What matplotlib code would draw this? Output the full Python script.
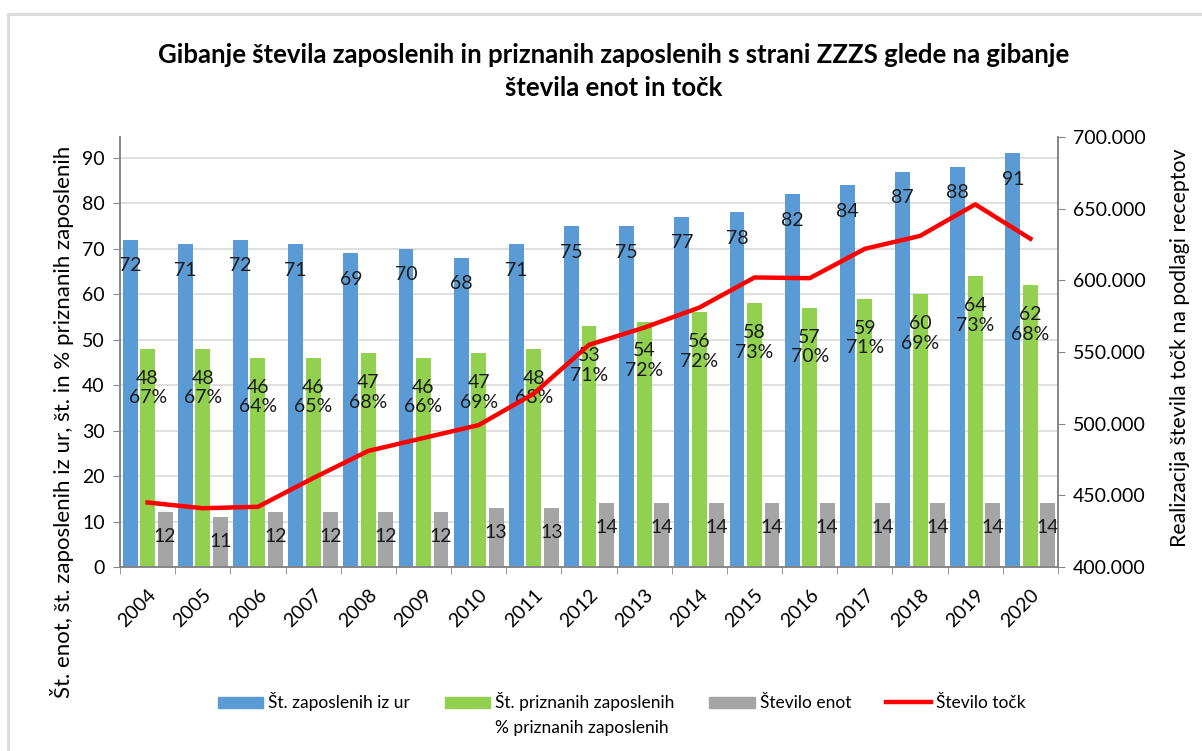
import numpy as np
import matplotlib
matplotlib.use("Agg")
import matplotlib.pyplot as plt
from matplotlib.patches import Patch, Rectangle
from matplotlib.lines import Line2D
from matplotlib.ticker import FuncFormatter, FixedLocator

plt.rcParams['font.family'] = ['Lato', 'DejaVu Sans']

# === Data ===
years = [str(y) for y in range(2004, 2021)]
zaposleni_ur = [72, 71, 72, 71, 69, 70, 68, 71, 75, 75, 77, 78, 82, 84, 87, 88, 91]
priznani = [48, 48, 46, 46, 47, 46, 47, 48, 53, 54, 56, 58, 57, 59, 60, 64, 62]
priznani_pct = [67, 67, 64, 65, 68, 66, 69, 68, 71, 72, 72, 73, 70, 71, 69, 73, 68]
enote = [12, 11, 12, 12, 12, 12, 13, 13, 14, 14, 14, 14, 14, 14, 14, 14, 14]
tocke = [445000, 441000, 442000, 462000, 481000, 490000, 499000, 521000, 555000,
         567000, 581000, 602000, 601500, 622000, 631000, 653000, 629000]

# === Styling ===
c_blue = '#5B9BD5'
c_green = '#92D050'
c_gray = '#A5A5A5'
c_red = '#FF0000'
axis_col = '#868686'
grid_col = '#D9D9D9'

W, H = 1202, 751
fig = plt.figure(figsize=(W / 100, H / 100), dpi=100)

# outer chart frame
fig.patches.append(Rectangle((8 / W, -0.05), 1.2, 1 - 14 / H + 0.05, transform=fig.transFigure,
                             fill=False, edgecolor='#D9D9D9', linewidth=2))

ax = fig.add_axes([120 / W, 1 - 567 / H, 938 / W, 430 / H])
ax2 = ax.twinx()

x = np.arange(len(years))
bw = 0.27
off = 0.317

ax.bar(x - off, zaposleni_ur, bw, color=c_blue, zorder=2)
ax.bar(x, priznani, bw, color=c_green, zorder=2)
ax.bar(x + off, enote, bw, color=c_gray, zorder=2)

lbl_fs = 14
for i in range(len(years)):
    ax.text(x[i] - off, zaposleni_ur[i] - 5.7, str(zaposleni_ur[i]), ha='center', va='center',
            fontsize=lbl_fs, color='#1a1a1a', zorder=5)
    ax.text(x[i], priznani[i] - 8.6, f"{priznani[i]}\n{priznani_pct[i]}%", ha='center', va='center',
            fontsize=lbl_fs, color='#1a1a1a', linespacing=1.2, zorder=5)
    ax.text(x[i] + off, enote[i] - 5.3, str(enote[i]), ha='center', va='center',
            fontsize=lbl_fs, color='#1a1a1a', zorder=5)

ax2.plot(x, tocke, color=c_red, linewidth=3.2, solid_joinstyle='round', zorder=4)

# --- axes ---
ax.set_xlim(-0.5, len(years) - 0.5)
ax.set_ylim(0, 94.6)
ax2.set_ylim(400000, 700000)
ax.set_yticks(range(0, 100, 10))
ax2.set_yticks(range(400000, 700001, 50000))
ax2.yaxis.set_major_formatter(FuncFormatter(lambda v, p: f"{int(v):,}".replace(',', '.')))

ax.set_xticks(x)
ax.set_xticklabels(years, rotation=45, ha='right', va='top', rotation_mode='anchor', fontsize=14)
ax.xaxis.set_minor_locator(FixedLocator(np.arange(-0.5, len(years), 1.0)))
ax.tick_params(axis='x', which='major', length=0, pad=14)
ax.tick_params(axis='x', which='minor', length=5, color=axis_col, direction='out')
ax.tick_params(axis='y', length=5, color=axis_col, labelsize=14, pad=6)
ax2.tick_params(axis='y', length=5, color=axis_col, labelsize=14, pad=6)

ax.yaxis.grid(True, color=grid_col, linewidth=1.2, zorder=0)
ax.set_axisbelow(True)
for a in (ax, ax2):
    a.spines['top'].set_visible(False)
    for s in ('left', 'right', 'bottom'):
        a.spines[s].set_color(axis_col)
        a.spines[s].set_linewidth(1.2)

# --- titles and axis labels ---
fig.text(614 / W, 1 - 55 / H, "Gibanje števila zaposlenih in priznanih zaposlenih s strani ZZZS glede na gibanje",
         ha='center', va='center', fontsize=18.5, fontweight='bold')
fig.text(614 / W, 1 - 88 / H, "števila enot in točk", ha='center', va='center', fontsize=18.5, fontweight='bold')
fig.text(62 / W, 1 - 422 / H, "Št. enot, št. zaposlenih iz ur, št. in % priznanih zaposlenih",
         rotation=90, ha='center', va='center', fontsize=16)
fig.text(1180 / W, 1 - 348 / H, "Realizacija števila točk na podlagi receptov",
         rotation=90, ha='center', va='center', fontsize=15.3)

# --- legend ---
blank = Patch(facecolor='none', edgecolor='none')
handles = [Patch(color=c_blue), blank,
           Patch(color=c_green), Patch(facecolor='none', edgecolor='none'),
           Patch(color=c_gray), blank,
           Line2D([0], [0], color=c_red, linewidth=3.2), blank]
labels = ["Št. zaposlenih iz ur", "", "Št. priznanih zaposlenih", "% priznanih zaposlenih",
          "Število enot", "", "Število točk", ""]
fig.legend(handles, labels, ncol=4, loc='center', bbox_to_anchor=(622 / W, 1 - 714 / H),
           frameon=False, fontsize=12.5, handlelength=2.6, handleheight=0.6, handletextpad=0.3,
           columnspacing=2.0, labelspacing=0.5)

fig.savefig("out.png", dpi=100)
